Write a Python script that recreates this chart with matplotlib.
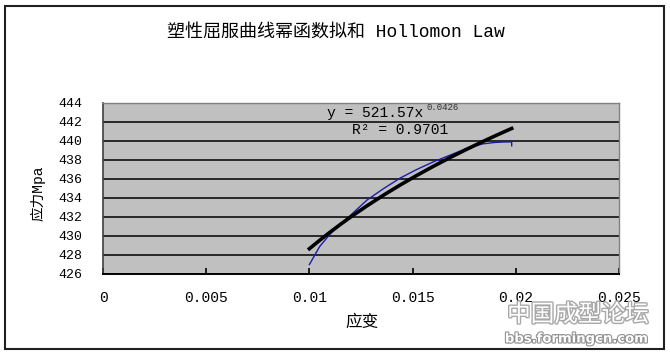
import matplotlib
matplotlib.use("Agg")
import matplotlib.pyplot as plt
import matplotlib.patches as mpatches
import matplotlib.patheffects as pe
import numpy as np

# ---- data ----
strain = [0.0100, 0.0105, 0.0110, 0.0115, 0.0120, 0.0128, 0.0136, 0.0144,
          0.0152, 0.0160, 0.0168, 0.0176, 0.0184, 0.0190, 0.0195, 0.0198, 0.0198]
stress = [427.0, 428.9, 430.2, 431.2, 432.2, 433.8, 435.0, 436.1,
          437.0, 437.8, 438.5, 439.2, 439.7, 439.85, 439.9, 439.9, 439.5]

trend_A = 521.57
trend_n = 0.0426
trend_r2 = 0.9701

x_ticks = [0, 0.005, 0.01, 0.015, 0.02, 0.025]
x_ticklabels = ["0", "0.005", "0.01", "0.015", "0.02", "0.025"]
y_ticks = [426, 428, 430, 432, 434, 436, 438, 440, 442, 444]

title = "塑性屈服曲线幂函数拟和 Hollomon Law"
xlabel = "应变"
ylabel = "应力Mpa"

FAM = ["Liberation Mono", "Noto Sans CJK SC", "DejaVu Sans"]
CJK = ["Noto Sans CJK SC", "DejaVu Sans"]

W, H = 670, 353
fig = plt.figure(figsize=(W / 100, H / 100), dpi=100)
fig.patch.set_facecolor("white")

L, R, T, B = 103, 619, 103, 274
ax = fig.add_axes([L / W, 1 - B / H, (R - L) / W, (B - T) / H])
ax.set_facecolor("#c0c0c0")
ax.set_xlim(0, 0.025)
ax.set_ylim(426, 444)
ax.set_xticks(x_ticks)
ax.set_xticklabels(x_ticklabels)
ax.set_yticks(y_ticks)
ax.yaxis.grid(True, color="black", linewidth=1.1)
ax.set_axisbelow(True)
ax.tick_params(axis="x", direction="in", length=4, width=1.2, color="black",
               pad=12, labelsize=10.5)
ax.tick_params(axis="y", length=0, pad=15, labelsize=9.5)
for lab in ax.get_xticklabels() + ax.get_yticklabels():
    lab.set_family(FAM)
for s in ["top", "right"]:
    ax.spines[s].set_color("#808080")
    ax.spines[s].set_linewidth(1.0)
ax.spines["left"].set_color("#404040")
ax.spines["left"].set_linewidth(1.2)
ax.spines["bottom"].set_color("black")
ax.spines["bottom"].set_linewidth(1.4)

# data curve
ax.plot(strain, stress, color="#1c1ca8", linewidth=1.0, zorder=3)
# power trend line y = A x^n
sx = np.array(strain)
ax.plot(sx, trend_A * sx ** trend_n, color="black", linewidth=2.6, zorder=4)

# trendline equation
ax.text(0.434, 0.942, f"y = {trend_A:.2f}x", transform=ax.transAxes,
        ha="left", va="center", fontsize=10.5, family=FAM, color="black")
ax.text(0.626, 0.972, f"{trend_n:.4f}", transform=ax.transAxes,
        ha="left", va="center", fontsize=6.5, family=FAM, color="#303030")
ax.text(0.5756, 0.842, f"R² = {trend_r2:.4f}", transform=ax.transAxes,
        ha="center", va="center", fontsize=10.5, family=FAM, color="black")

# titles / labels
fig.text(336 / W, 1 - 32 / H, title, ha="center", va="center",
         fontsize=13, family=FAM)
fig.text(362 / W, 1 - 322 / H, xlabel, ha="center", va="center",
         fontsize=12, family=CJK)
fig.text(38 / W, 1 - 193 / H, ylabel, ha="center", va="center",
         rotation=90, fontsize=10.5, family=FAM)

# watermark
wm_fx = [pe.withStroke(linewidth=2.0, foreground="#a8a8a8")]
fig.text(578 / W, 1 - 315 / H, "中国成型论坛", ha="center", va="center",
         fontsize=17, family=CJK, color="white", path_effects=wm_fx)
fig.text(577 / W, 1 - 339 / H, "bbs.formingcn.com", ha="center", va="center",
         fontsize=9.5, family=["DejaVu Sans"], weight="bold", color="white",
         path_effects=[pe.withStroke(linewidth=1.6, foreground="#909090")])

# outer chart border
fig.patches.append(mpatches.Rectangle((5 / W, 1 - 349 / H), 659 / W, 343 / H,
                                      transform=fig.transFigure, fill=False,
                                      edgecolor="#202020", linewidth=1.5))

fig.savefig("out.png", dpi=100)
